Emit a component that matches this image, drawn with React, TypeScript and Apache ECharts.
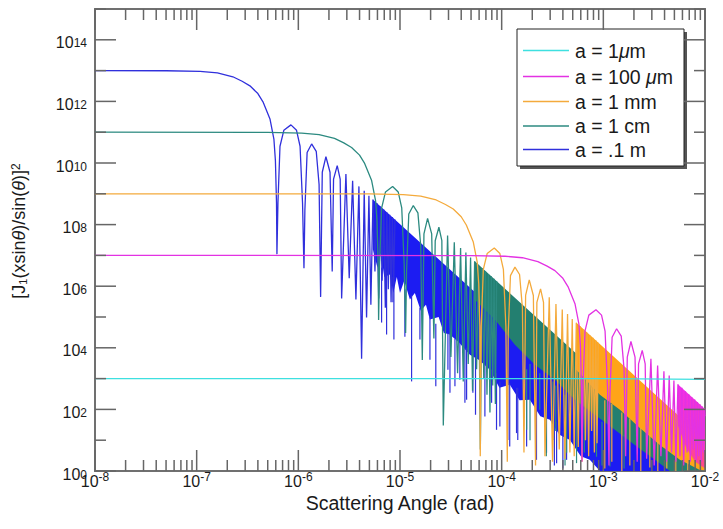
import React, { useEffect, useRef } from "react";
import * as echarts from "echarts";

const FONT = '"Liberation Sans", Arial, Helvetica, sans-serif';
const TEXT_COLOR = "#1a1a1a";

// Legend / series names (legend order)
const NAMES = ["a = 1μm", "a = 100 μm", "a = 1 mm", "a = 1 cm", "a = .1 m"];
const LINE_COLORS = ["#3ee0e0", "#e332e3", "#f4aa3c", "#2c8a80", "#3030dc"];
const BAND_COLORS = ["#3ee0e0", "#f02cf0", "#ffa418", "#237f70", "#1c1cf2"];

// Axis tick definitions
const X_DECADES = [-8, -7, -6, -5, -4, -3, -2];
const MINOR_MULTIPLIERS = [2, 3, 4, 5, 6, 7, 8, 9];
const Y_DECADES = [0, 1, 2, 3, 4, 5, 6, 7, 8, 9, 10, 11, 12, 13, 14, 15];
const Y_LABEL_EXPONENTS = [0, 2, 4, 6, 8, 10, 12, 14];

// ---- curves: [angle (rad), intensity] ----
const CYAN_LINE = [[1e-8, 1e3], [1e-3, 1e3], [1e-2, 9.5e2]];

const BLUE_LINE = [
  [1e-8, 1.0e13], [5e-8, 9.9e12], [1.08e-7, 9.4e12], [1.6e-7, 8.4e12], [2.27e-7, 6.3e12],
  [2.8e-7, 4.5e12], [3.34e-7, 3.2e12], [4.0e-7, 1.8e12], [4.49e-7, 9.7e11], [5.26e-7, 2.7e11],
  [5.75e-7, 6.0e10], [5.95e-7, 1.2e10], [6.1e-7, 5e8], [6.16e-7, 1.1e7],
  [6.3e-7, 5e8], [6.6e-7, 3.5e10], [7.2e-7, 1.15e11], [8.46e-7, 1.73e11], [9.6e-7, 1.15e11],
  [1.04e-6, 3.5e10], [1.1e-6, 5e8], [1.136e-6, 3.8e6],
  [1.16e-6, 3e8], [1.22e-6, 2.2e10], [1.351e-6, 4.16e10], [1.5e-6, 2.4e10], [1.6e-6, 2e9], [1.657e-6, 4.5e5],
  [1.72e-6, 5e9], [1.868e-6, 1.6e10], [2.05e-6, 5e9], [2.154e-6, 3.0e6],
  [2.22e-6, 3e9], [2.413e-6, 8.2e9], [2.58e-6, 3e9], [2.666e-6, 4.0e5],
  [2.938e-6, 4.4e9], [3.166e-6, 1.8e6], [3.42e-6, 2.65e9], [3.685e-6, 3.7e5],
  [3.944e-6, 1.74e9], [4.19e-6, 4.4e3], [4.446e-6, 1.25e9], [4.69e-6, 9.6e4],
  [4.946e-6, 8.6e8], [5.17e-6, 2.5e5], [5.42e-6, 6.5e8], [5.67e-6, 3e6],
  [5.92e-6, 5e8], [6.17e-6, 4e5], [6.42e-6, 3.9e8], [6.67e-6, 1.5e6],
  [6.92e-6, 3.1e8], [7.17e-6, 2e5], [7.42e-6, 2.5e8], [7.67e-6, 8e5],
  [7.92e-6, 2.1e8], [8.17e-6, 3e5], [8.42e-6, 1.75e8], [8.67e-6, 1.2e6], [8.92e-6, 1.47e8],
];

const TEAL_LINE = [
  [1e-8, 1.0e11], [5e-7, 9.9e10], [1.08e-6, 9.4e10], [1.6e-6, 8.4e10], [2.27e-6, 6.3e10],
  [2.8e-6, 4.5e10], [3.34e-6, 3.2e10], [4.0e-6, 1.8e10], [4.49e-6, 9.7e9], [5.26e-6, 2.7e9],
  [5.75e-6, 6.0e8], [5.95e-6, 1.2e8], [6.1e-6, 5e6], [6.16e-6, 8e4],
  [6.3e-6, 5e6], [6.6e-6, 3.5e8], [7.2e-6, 1.15e9], [8.46e-6, 1.73e9], [9.6e-6, 1.15e9],
  [1.04e-5, 3.5e8], [1.1e-5, 5e6], [1.136e-5, 3e4],
  [1.16e-5, 3e6], [1.22e-5, 2.2e8], [1.351e-5, 4.16e8], [1.5e-5, 2.4e8], [1.6e-5, 2e7], [1.657e-5, 4e3],
  [1.72e-5, 5e7], [1.868e-5, 1.6e8], [2.05e-5, 5e7], [2.154e-5, 2e4],
  [2.22e-5, 3e7], [2.413e-5, 8.2e7], [2.58e-5, 3e7], [2.666e-5, 30],
  [2.938e-5, 4.4e7], [3.166e-5, 5e3], [3.42e-5, 2.65e7], [3.685e-5, 1.5e3],
  [3.944e-5, 1.74e7], [4.19e-5, 8e2], [4.446e-5, 1.25e7], [4.69e-5, 3e3],
  [4.946e-5, 8.6e6], [5.17e-5, 4e2], [5.42e-5, 6.5e6], [5.67e-5, 2e3],
  [5.92e-5, 5e6], [6.17e-5, 5], [6.42e-5, 3.9e6], [6.67e-5, 1e3],
  [6.92e-5, 3.1e6], [7.17e-5, 3e2], [7.42e-5, 2.5e6], [7.67e-5, 80],
  [7.92e-5, 2.1e6], [8.17e-5, 6e2], [8.42e-5, 1.75e6], [8.67e-5, 1.5e2], [8.92e-5, 1.47e6],
];

const ORANGE_LINE = [
  [1e-8, 1.0e9], [5e-6, 9.9e8], [1.08e-5, 9.4e8], [1.6e-5, 8.4e8], [2.27e-5, 6.3e8],
  [2.8e-5, 4.5e8], [3.34e-5, 3.2e8], [4.0e-5, 1.8e8], [4.49e-5, 9.7e7], [5.26e-5, 2.7e7],
  [5.75e-5, 6.0e6], [5.95e-5, 1.2e6], [6.1e-5, 5e4], [6.16e-5, 3],
  [6.3e-5, 5e4], [6.6e-5, 3.5e6], [7.2e-5, 1.15e7], [8.46e-5, 1.73e7], [9.6e-5, 1.15e7],
  [1.04e-4, 3.5e6], [1.1e-4, 5e4], [1.136e-4, 2],
  [1.16e-4, 3e4], [1.22e-4, 2.2e6], [1.351e-4, 4.16e6], [1.5e-4, 2.4e6], [1.6e-4, 2e5], [1.657e-4, 4],
  [1.72e-4, 5e5], [1.868e-4, 1.6e6], [2.05e-4, 5e5], [2.154e-4, 1.5],
  [2.22e-4, 3e5], [2.413e-4, 8.2e5], [2.58e-4, 3e5], [2.666e-4, 3],
  [2.938e-4, 4.4e5], [3.166e-4, 2], [3.42e-4, 2.65e5], [3.685e-4, 5],
  [3.944e-4, 1.74e5], [4.19e-4, 2.5], [4.446e-4, 1.25e5], [4.69e-4, 4],
  [4.946e-4, 8.6e4], [5.17e-4, 3], [5.42e-4, 6.5e4], [5.67e-4, 6],
  [5.92e-4, 5e4], [6.17e-4, 2], [6.42e-4, 3.9e4], [6.67e-4, 10],
  [6.92e-4, 3.1e4], [7.17e-4, 3], [7.42e-4, 2.5e4], [7.67e-4, 20],
  [7.92e-4, 2.1e4], [8.17e-4, 4], [8.42e-4, 1.75e4], [8.67e-4, 8], [8.92e-4, 1.47e4],
];

const MAGENTA_LINE = [
  [1e-8, 1.0e7], [5e-5, 9.9e6], [1.08e-4, 9.4e6], [1.6e-4, 8.4e6], [2.27e-4, 6.3e6],
  [2.8e-4, 4.5e6], [3.34e-4, 3.2e6], [4.0e-4, 1.8e6], [4.49e-4, 9.7e5], [5.26e-4, 2.7e5],
  [5.75e-4, 6.0e4], [5.95e-4, 1.2e4], [6.1e-4, 5e2], [6.16e-4, 2],
  [6.3e-4, 5e2], [6.6e-4, 3.5e4], [7.2e-4, 1.15e5], [8.46e-4, 1.73e5], [9.6e-4, 1.15e5],
  [1.04e-3, 3.5e4], [1.1e-3, 5e2], [1.136e-3, 1.5],
  [1.16e-3, 3e2], [1.22e-3, 2.2e4], [1.351e-3, 4.16e4], [1.5e-3, 2.4e4], [1.6e-3, 2e3], [1.657e-3, 3],
  [1.72e-3, 5e3], [1.868e-3, 1.6e4], [2.05e-3, 5e3], [2.154e-3, 2],
  [2.22e-3, 3e3], [2.413e-3, 8.2e3], [2.58e-3, 3e3], [2.666e-3, 2.5],
  [2.938e-3, 4.4e3], [3.166e-3, 1.5], [3.42e-3, 2.65e3], [3.685e-3, 3],
  [3.944e-3, 1.74e3], [4.19e-3, 2], [4.446e-3, 1.25e3], [4.69e-3, 4],
  [4.946e-3, 8.6e2], [5.17e-3, 2], [5.42e-3, 6.5e2], [5.67e-3, 3],
  [5.92e-3, 5e2], [6.17e-3, 1.5], [6.42e-3, 3.9e2], [6.67e-3, 4],
  [6.92e-3, 3.1e2], [7.17e-3, 2], [7.42e-3, 2.5e2], [7.67e-3, 5],
  [7.92e-3, 2.1e2], [8.17e-3, 2], [8.42e-3, 1.75e2], [8.67e-3, 3], [8.92e-3, 1.47e2],
  [9.17e-3, 2], [9.42e-3, 1.25e2], [9.67e-3, 4], [9.92e-3, 1.06e2], [1e-2, 60],
];

// ---- dense (unresolved) fringe regions: upper envelope and ragged lower edge ----
const BLUE_BAND_TOP = [[5.41e-6, 6.57e8], [4.7e-3, 1]];
const BLUE_BAND_BOTTOM = [
  [5.41e-6, 1.58e7], [6.0e-6, 4e6], [6.5e-6, 1.2e7], [7.0e-6, 2e6], [7.96e-6, 2.42e6],
  [8.6e-6, 6e5], [9.3e-6, 2e6], [1.0e-5, 6e5], [1.1e-5, 1.5e6], [1.251e-5, 3.7e5],
  [1.4e-5, 6e5], [1.6e-5, 1.6e5], [1.8e-5, 2.5e5], [1.968e-5, 8.3e4], [2.4e-5, 1e5],
  [2.7e-5, 3e4], [3.095e-5, 2.7e4], [3.8e-5, 1.5e4], [4.87e-5, 6.0e3], [6.0e-5, 4e3],
  [7.66e-5, 1.95e3], [9.5e-5, 5e2], [1.204e-4, 6.3e2], [1.5e-4, 2e2], [1.893e-4, 2.05e2],
  [2.4e-4, 60], [2.98e-4, 46], [3.7e-4, 15], [4.69e-4, 10.2], [6e-4, 3], [7.36e-4, 2.3],
  [9.25e-4, 1], [4.7e-3, 1],
];
const TEAL_BAND_TOP = [[5.41e-5, 6.57e6], [1e-2, 1.04]];
const TEAL_BAND_BOTTOM = [
  [5.41e-5, 3.7e5], [8.57e-5, 8.3e4], [1.349e-4, 1.26e4], [2.12e-4, 2.84e3], [3.34e-4, 9.2e2],
  [5.25e-4, 2.05e2], [8.25e-4, 67], [1.297e-3, 21.7], [2.04e-3, 7.0], [3.21e-3, 2.3],
  [4.51e-3, 1], [1e-2, 1],
];
const ORANGE_BAND_TOP = [[5.41e-4, 6.57e4], [1e-2, 10.4]];
const ORANGE_BAND_BOTTOM = [
  [5.41e-4, 1.95e3], [9.25e-4, 3.0e2], [1.455e-3, 97], [2.29e-3, 25], [3.6e-3, 7],
  [5.66e-3, 2.3], [8.9e-3, 1.08], [1e-2, 1],
];
const MAGENTA_BAND_TOP = [[5.41e-3, 6.57e2], [1e-2, 1.04e2]];
const MAGENTA_BAND_BOTTOM = [[5.41e-3, 30], [6.5e-3, 6], [8e-3, 2], [1e-2, 1.2]];

// ---- isolated deep minima below the dense regions: [angle, from, to] ----
const BLUE_SPIKES = [
  [6.59e-6, 4e6, 6.6e4], [7.38e-6, 3e6, 2.7e4], [8.51e-6, 2e6, 3e5], [8.71e-6, 2e6, 1.85e4],
  [1.117e-5, 8e5, 2.3e4], [1.30e-5, 5e5, 8.1e2], [1.57e-5, 2e5, 1.86e4], [1.97e-5, 1e5, 4.1e3],
  [2.25e-5, 6e4, 5.6e2], [2.96e-5, 3e4, 1.95e3], [3.1e-5, 3e4, 3.5e2], [3.47e-5, 2e4, 5.6e2],
  [3.88e-5, 1.5e4, 9.2e2], [4.35e-5, 1e4, 1.64e2], [4.52e-5, 1e4, 2.05e2], [5.21e-5, 6e3, 3.5e2],
  [5.53e-5, 5e3, 67], [6.84e-5, 3e3, 59], [7.96e-5, 2e3, 1.64e2], [8.9e-5, 1.5e3, 21.7],
  [9.6e-5, 8e2, 28], [1.15e-4, 7e2, 10.2], [1.2e-4, 7e2, 6.2], [1.40e-4, 5e2, 17],
  [1.44e-4, 5e2, 10.2], [1.76e-4, 3e2, 6.2], [2.2e-4, 150, 2.3], [2.76e-4, 80, 3.9],
  [3.3e-4, 40, 1.5], [3.47e-4, 40, 1.8], [4.0e-4, 20, 1.2], [4.35e-4, 20, 2.3],
];
const TEAL_SPIKES = [
  [1.76e-4, 2e3, 21.7], [1.9e-4, 3e3, 10], [2.37e-4, 1.5e3, 97], [2.75e-4, 9e2, 3],
  [3.19e-4, 8e2, 10.2], [3.4e-4, 6e2, 20], [4.2e-4, 3e2, 1.5], [4.35e-4, 4e2, 3.9],
  [5.45e-4, 2e2, 1.8], [6.5e-4, 1e2, 4], [8.57e-4, 60, 2.9], [9.7e-4, 40, 1.5],
  [1.16e-3, 30, 1.4], [1.6e-3, 15, 1.2],
];
const ORANGE_SPIKES = [
  [1.034e-3, 2e2, 1.2], [1.212e-3, 1.5e2, 2], [1.52e-3, 80, 1], [1.823e-3, 50, 1.5],
  [2.337e-3, 25, 1], [2.866e-3, 15, 1.3], [3.435e-3, 9, 1], [4.21e-3, 5, 1.2],
  [5.16e-3, 3, 1], [6.77e-3, 2, 1],
];

// legend row centres (px)
const LEGEND_ROWS = [50.5, 76.5, 101.5, 126, 149.5];

function lineSeries(name: string, data: number[][], color: string) {
  return {
    type: "line",
    name,
    data,
    symbol: "none",
    showSymbol: false,
    clip: true,
    lineStyle: { width: 1.3, color },
    itemStyle: { color },
    emphasis: { disabled: true },
  };
}

function bandSeries(top: number[][], bottom: number[][], fill: any) {
  return {
    type: "custom",
    silent: true,
    clip: true,
    data: [[top[0][0], top[0][1]]],
    encode: { x: 0, y: 1 },
    renderItem: (params: any, api: any) => {
      const pts = top.concat(bottom.slice().reverse()).map((p) => api.coord(p));
      return { type: "polygon", shape: { points: pts }, style: { fill } };
    },
  };
}

function spikeSeries(data: number[][], color: string) {
  return {
    type: "custom",
    silent: true,
    clip: true,
    data,
    encode: { x: 0, y: [1, 2] },
    renderItem: (params: any, api: any) => {
      const a = api.coord([api.value(0), api.value(1)]);
      const b = api.coord([api.value(0), api.value(2)]);
      return {
        type: "line",
        shape: { x1: a[0], y1: a[1], x2: b[0], y2: b[1] },
        style: { stroke: color, lineWidth: 1.2 },
      };
    },
  };
}

const TICK_COLOR = "#666";

// base "10" centred on the anchor; exponent token is a tiny top-aligned box, so it rises
const yLabelRich = {
  b: { fontSize: 16, fontFamily: FONT, fill: TEXT_COLOR, lineHeight: 11, verticalAlign: "middle" },
  s: { fontSize: 12, fontFamily: FONT, fill: TEXT_COLOR, lineHeight: 4, verticalAlign: "top" },
};
const xLabelRich = {
  b: { fontSize: 16, fontFamily: FONT, fill: TEXT_COLOR, lineHeight: 20.5, verticalAlign: "middle" },
  s: { fontSize: 12, fontFamily: FONT, fill: TEXT_COLOR, lineHeight: 4, verticalAlign: "top" },
};

const tickSeries = {
  type: "custom",
  silent: true,
  data: [[1e-8, 1]],
  encode: { x: 0, y: 1 },
  z: 10,
  renderItem: (params: any, api: any) => {
    const cs = params.coordSys;
    const x0 = cs.x, x1 = cs.x + cs.width, y0 = cs.y, y1 = cs.y + cs.height;
    const children: any[] = [];
    const st = { stroke: TICK_COLOR, lineWidth: 1.5 };
    X_DECADES.forEach((d) => {
      const mults = d === -2 ? [1] : [1].concat(MINOR_MULTIPLIERS);
      mults.forEach((m) => {
        const px = api.coord([m * Math.pow(10, d), 1])[0];
        const len = m === 1 ? 21 : 11;
        children.push({ type: "line", shape: { x1: px, y1: y1, x2: px, y2: y1 - len }, style: st });
        children.push({ type: "line", shape: { x1: px, y1: y0, x2: px, y2: y0 + len }, style: st });
      });
      const lx = api.coord([Math.pow(10, d), 1])[0];
      children.push({
        type: "text",
        x: lx,
        y: y1 + 10,
        style: {
          text: `{b|10}{s|${d}}`,
          rich: xLabelRich,
          align: "center",
          verticalAlign: "middle",
          fill: TEXT_COLOR,
        },
      });
    });
    Y_DECADES.forEach((e) => {
      const py = api.coord([1e-8, Math.pow(10, e)])[1];
      const len = e % 2 === 0 ? 21 : 11;
      children.push({ type: "line", shape: { x1: x0, y1: py, x2: x0 + len, y2: py }, style: st });
      children.push({ type: "line", shape: { x1: x1, y1: py, x2: x1 - len, y2: py }, style: st });
    });
    Y_LABEL_EXPONENTS.forEach((e) => {
      const py = api.coord([1e-8, Math.pow(10, e)])[1];
      children.push({
        type: "text",
        x: x0 - 8,
        y: py + 3,
        style: {
          text: `{b|10}{s|${e}}`,
          rich: yLabelRich,
          align: "right",
          verticalAlign: "middle",
          fill: TEXT_COLOR,
        },
      });
    });
    return { type: "group", children };
  },
};

const legendGraphic = {
  type: "group",
  silent: true,
  children: [
    { type: "rect", shape: { x: 520, y: 32, width: 167, height: 137 }, style: { fill: "#555" } },
    { type: "rect", shape: { x: 517, y: 29, width: 167, height: 137 }, style: { fill: "#fff", stroke: "#222", lineWidth: 1 } },
    ...NAMES.map((n, i) => ({
      type: "line",
      shape: { x1: 523, y1: LEGEND_ROWS[i], x2: 569, y2: LEGEND_ROWS[i] },
      style: { stroke: LINE_COLORS[i], lineWidth: 1.6 },
    })),
    ...NAMES.map((n, i) => ({
      type: "text",
      x: 575,
      y: LEGEND_ROWS[i],
      style: {
        text: n.replace("μ", "{i|μ}"),
        fontSize: 19.5,
        fontFamily: FONT,
        fill: TEXT_COLOR,
        align: "left",
        verticalAlign: "middle",
        rich: { i: { fontSize: 19.5, fontFamily: FONT, fontStyle: "italic", fill: TEXT_COLOR } },
      },
    })),
  ],
};

const option = {
  animation: false,
  backgroundColor: "#fff",
  grid: {
    left: 95, right: 18, top: 9, bottom: 58,
    show: true, borderColor: "#707070", borderWidth: 2, backgroundColor: "transparent",
  },
  graphic: [legendGraphic],
  xAxis: {
    type: "log",
    logBase: 10,
    min: 1e-8,
    max: 1e-2,
    axisLine: { show: false },
    axisTick: { show: false },
    minorTick: { show: false },
    splitLine: { show: false },
    axisLabel: { show: false },
    name: "Scattering Angle (rad)",
    nameLocation: "middle",
    nameGap: 22,
    nameTextStyle: { fontSize: 19.5, fontFamily: FONT, color: TEXT_COLOR },
  },
  yAxis: {
    type: "log",
    logBase: 10,
    min: 1,
    max: 1e15,
    axisLine: { show: false },
    axisTick: { show: false },
    minorTick: { show: false },
    splitLine: { show: false },
    axisLabel: { show: false },
    name: "[J{sub|1}(xsin{th|θ})/sin({th|θ})]{sup|2}",
    nameLocation: "middle",
    nameRotate: 90,
    nameGap: 67,
    nameTextStyle: {
      fontSize: 18, fontFamily: FONT, color: TEXT_COLOR,
      padding: [0, 0, 0, 18],
      rich: {
        sub: { fontSize: 11, fontFamily: FONT, color: TEXT_COLOR, verticalAlign: "bottom", lineHeight: 10, padding: [9, 0, 0, 0] },
        sup: { fontSize: 12, fontFamily: FONT, color: TEXT_COLOR, verticalAlign: "top", lineHeight: 11 },
        th: { fontSize: 18, fontFamily: FONT, fontStyle: "italic", color: TEXT_COLOR },
      },
    },
  },
  series: [
    bandSeries(BLUE_BAND_TOP, BLUE_BAND_BOTTOM, BAND_COLORS[4]),
    spikeSeries(BLUE_SPIKES, LINE_COLORS[4]),
    lineSeries(NAMES[4], BLUE_LINE, LINE_COLORS[4]),
    bandSeries(TEAL_BAND_TOP, TEAL_BAND_BOTTOM, BAND_COLORS[3]),
    spikeSeries(TEAL_SPIKES, LINE_COLORS[3]),
    lineSeries(NAMES[3], TEAL_LINE, LINE_COLORS[3]),
    bandSeries(ORANGE_BAND_TOP, ORANGE_BAND_BOTTOM, BAND_COLORS[2]),
    spikeSeries(ORANGE_SPIKES, LINE_COLORS[2]),
    lineSeries(NAMES[2], ORANGE_LINE, LINE_COLORS[2]),
    bandSeries(MAGENTA_BAND_TOP, MAGENTA_BAND_BOTTOM, {
      type: "linear", x: 0, y: 0, x2: 0, y2: 1,
      colorStops: [{ offset: 0, color: "#f02cf0" }, { offset: 1, color: "#ff4a86" }],
    }),
    lineSeries(NAMES[1], MAGENTA_LINE, LINE_COLORS[1]),
    lineSeries(NAMES[0], CYAN_LINE, LINE_COLORS[0]),
    tickSeries,
  ],
};

export default function App() {
  const ref = useRef<HTMLDivElement>(null);
  useEffect(() => {
    if (!ref.current) return;
    const chart = echarts.init(ref.current, null, { renderer: "svg" });
    chart.setOption(option as any);
    return () => chart.dispose();
  }, []);
  return (
    <div
      ref={ref}
      style={{ position: "fixed", left: 0, top: 0, width: 723, height: 529, background: "#fff" }}
    />
  );
}
